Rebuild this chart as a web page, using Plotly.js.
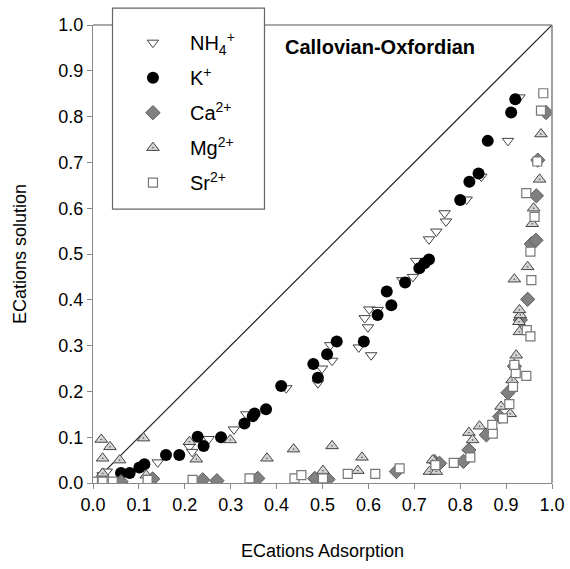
<!DOCTYPE html>
<html>
<head>
<meta charset="utf-8">
<script src="https://cdn.plot.ly/plotly-3.0.1.min.js"></script>
<style>html,body{margin:0;padding:0;background:#fff}#chart{width:570px;height:569px}</style>
</head>
<body>
<div id="chart"></div>
<script>
// 1:1 reference line
var lineX = [0, 1];
var lineY = [0, 1];

var nh4X = [0.021,0.030,0.141,0.210,0.216,0.252,0.307,0.334,0.421,0.490,0.499,0.521,0.517,0.579,0.606,0.599,0.592,0.602,0.620,0.674,0.697,0.704,0.732,0.748,0.766,0.769,0.814,0.846,0.904,0.929];
var nh4Y = [0.017,0.025,0.045,0.079,0.068,0.096,0.117,0.150,0.207,0.218,0.250,0.267,0.301,0.296,0.279,0.340,0.360,0.379,0.378,0.443,0.450,0.485,0.532,0.549,0.589,0.571,0.619,0.669,0.747,0.842];

var kX = [0.061,0.080,0.101,0.112,0.159,0.188,0.228,0.241,0.279,0.330,0.348,0.352,0.377,0.410,0.490,0.480,0.510,0.531,0.590,0.620,0.650,0.640,0.680,0.711,0.722,0.732,0.800,0.820,0.840,0.860,0.911,0.920];
var kY = [0.022,0.022,0.034,0.041,0.061,0.061,0.101,0.081,0.100,0.130,0.146,0.152,0.161,0.212,0.230,0.260,0.281,0.309,0.309,0.367,0.388,0.418,0.438,0.469,0.480,0.488,0.618,0.658,0.676,0.747,0.809,0.838];

var caX = [0.061,0.130,0.239,0.270,0.359,0.483,0.512,0.661,0.744,0.755,0.807,0.819,0.857,0.886,0.904,0.918,0.931,0.947,0.955,0.965,0.966,0.969,0.987];
var caY = [0.003,0.009,0.007,0.005,0.010,0.010,0.008,0.025,0.047,0.043,0.047,0.072,0.105,0.145,0.197,0.255,0.356,0.401,0.522,0.530,0.627,0.705,0.809];

var mgX = [0.018,0.037,0.021,0.058,0.110,0.021,0.116,0.210,0.225,0.299,0.379,0.437,0.521,0.586,0.501,0.577,0.740,0.733,0.748,0.819,0.827,0.842,0.889,0.909,0.913,0.922,0.928,0.929,0.931,0.929,0.918,0.947,0.957,0.960,0.973,0.976];
var mgY = [0.095,0.079,0.054,0.050,0.098,0.021,0.017,0.090,0.052,0.094,0.054,0.074,0.081,0.056,0.027,0.027,0.050,0.025,0.025,0.110,0.094,0.124,0.167,0.151,0.225,0.279,0.352,0.330,0.367,0.378,0.445,0.472,0.566,0.600,0.663,0.762];

var srX = [0.000,0.021,0.043,0.119,0.217,0.341,0.439,0.454,0.501,0.555,0.615,0.668,0.746,0.786,0.822,0.871,0.870,0.893,0.907,0.915,0.921,0.944,0.918,0.945,0.953,0.955,0.953,0.962,0.944,0.968,0.976,0.981];
var srY = [0.003,0.003,0.003,0.007,0.007,0.010,0.010,0.017,0.010,0.020,0.020,0.032,0.039,0.044,0.056,0.108,0.127,0.141,0.172,0.210,0.240,0.234,0.258,0.334,0.320,0.443,0.505,0.581,0.633,0.702,0.813,0.851];

var seriesNames = ['NH<sub>4</sub><sup>+</sup>', 'K<sup>+</sup>', 'Ca<sup>2+</sup>', 'Mg<sup>2+</sup>', 'Sr<sup>2+</sup>'];

var FONT = 'Liberation Sans, Arial, sans-serif';

var traces = [
  {x: lineX, y: lineY, mode: 'lines', line: {color: '#222', width: 1.2}, showlegend: false, hoverinfo: 'skip'},
  {x: nh4X, y: nh4Y, mode: 'markers', name: seriesNames[0], legendgroup: 'a',
   marker: {symbol: 'triangle-down', size: 10, color: '#ffffff', line: {color: '#444', width: 1}}},
  {x: kX, y: kY, mode: 'markers', name: seriesNames[1], legendgroup: 'b',
   marker: {symbol: 'circle', size: 12, color: '#000000', line: {color: '#000', width: 0}}},
  {x: caX, y: caY, mode: 'markers', name: seriesNames[2], legendgroup: 'c',
   marker: {symbol: 'diamond', size: 11, color: '#808080', line: {color: '#5a5a5a', width: 1}}},
  {x: mgX, y: mgY, mode: 'markers', name: seriesNames[3], legendgroup: 'd',
   marker: {symbol: 'triangle-up-dot', size: 11, color: '#d4d4d4', line: {color: '#444', width: 1}}},
  {x: srX, y: srY, mode: 'markers', name: seriesNames[4], legendgroup: 'e',
   marker: {symbol: 'square', size: 9, color: '#ffffff', line: {color: '#777', width: 1.2}}}
];

var layout = {
  width: 570, height: 569,
  margin: {l: 93, r: 18, t: 25, b: 86, pad: 0},
  paper_bgcolor: '#fff', plot_bgcolor: '#fff',
  font: {family: FONT, size: 18, color: '#000'},
  showlegend: true,
  legend: {
    x: 0.050, y: 1.004, xanchor: 'left', yanchor: 'top',
    bgcolor: 'rgba(0,0,0,0)', borderwidth: 0,
    font: {family: FONT, size: 20, color: '#000'},
    tracegroupgap: 6, itemwidth: 64
  },
  xaxis: {
    range: [0, 1], dtick: 0.1, tick0: 0, tickformat: '.1f',
    showline: true, linecolor: '#888', linewidth: 1.2,
    ticks: 'outside', ticklen: 5, tickcolor: '#888', tickwidth: 1,
    showgrid: false, zeroline: false,
    tickfont: {family: FONT, size: 18, color: '#000'},
    title: {text: 'ECations Adsorption', font: {family: FONT, size: 18, color: '#000'}, standoff: 30}
  },
  yaxis: {
    range: [0, 1], dtick: 0.1, tick0: 0, tickformat: '.1f',
    showline: true, linecolor: '#888', linewidth: 1.2,
    ticks: 'outside', ticklen: 5, tickcolor: '#888', tickwidth: 1,
    showgrid: false, zeroline: false,
    tickfont: {family: FONT, size: 18, color: '#000'},
    title: {text: 'ECations solution', font: {family: FONT, size: 18, color: '#000'}, standoff: 26}
  },
  shapes: [
    {type: 'line', xref: 'paper', yref: 'paper', x0: 0, x1: 1, y0: 1, y1: 1, line: {color: '#555', width: 1.2}, layer: 'above'},
    {type: 'line', xref: 'paper', yref: 'paper', x0: 1, x1: 1, y0: 0, y1: 1, line: {color: '#888', width: 1.6}, layer: 'above'},
    {type: 'rect', xref: 'paper', yref: 'paper', x0: 0.0425, x1: 0.3736, y0: 0.598, y1: 1.037,
     fillcolor: '#fff', line: {color: '#666', width: 1.2}, layer: 'above'}
  ],
  annotations: [
    {xref: 'paper', yref: 'paper', x: 0.626, y: 0.952, xanchor: 'center', yanchor: 'middle',
     text: 'Callovian-Oxfordian', showarrow: false,
     font: {family: FONT, size: 20, color: '#000', weight: 'bold'}}
  ]
};

Plotly.newPlot('chart', traces, layout, {displayModeBar: false, staticPlot: true});
</script>
</body>
</html>
